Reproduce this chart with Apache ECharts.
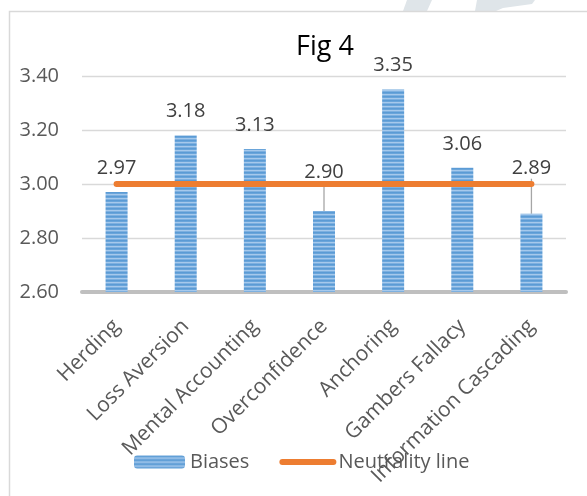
<!DOCTYPE html>
<html>
<head>
<meta charset="utf-8">
<script src="https://cdn.jsdelivr.net/npm/echarts@6/dist/echarts.min.js"></script>
<style>
  html, body { margin: 0; padding: 0; background: #ffffff; }
  #chart { width: 587px; height: 496px; }
</style>
</head>
<body>
<div id="chart"></div>
<script>
// Survey means per behavioural bias, plus the neutral reference level
const categories = ['Herding', 'Loss Aversion', 'Mental Accounting', 'Overconfidence', 'Anchoring', 'Gambers Fallacy', 'Information Cascading'];
const biases = [2.97, 3.18, 3.13, 2.90, 3.35, 3.06, 2.89];
const neutrality = [3.00, 3.00, 3.00, 3.00, 3.00, 3.00, 3.00];
const yMin = 2.6;
const yMax = 3.4;
const yStep = 0.2;

const FONT = '"Open Sans", "Noto Sans", sans-serif';

// Labels that sit under the orange line get pushed up above it, with a leader line
const liftedLabels = { 'Overconfidence': 15, 'Information Cascading': 21 };

// Horizontal-stripe fill for the bars
function stripeFill() {
  const c = document.createElement('canvas');
  c.width = 4; c.height = 4;
  const g = c.getContext('2d');
  const rows = ['#5b9bd5', '#6aa5da', '#a6c9ec', '#7db0e0'];
  rows.forEach((col, i) => { g.fillStyle = col; g.fillRect(0, i, 4, 1); });
  return { image: c, repeat: 'repeat' };
}
const barFill = stripeFill();

const chart = echarts.init(document.getElementById('chart'), null, { renderer: 'canvas' });

chart.setOption({
  animation: false,
  backgroundColor: '#ffffff',
  title: {
    text: 'Fig 4',
    left: 296,
    top: 34,
    padding: 0,
    textStyle: { fontFamily: FONT, fontSize: 27, fontWeight: 'normal', color: '#000000' }
  },
  graphic: [
    // faint logo shapes in the top margin
    { type: 'polygon', z: -10, silent: true,
      shape: { points: [[403, 11], [407, 0], [432, 0], [427, 11]] },
      style: { fill: '#dfe5e9' } },
    { type: 'polygon', z: -10, silent: true,
      shape: { points: [[475, 11], [477, 0], [535, 0], [532, 4], [503, 8], [496, 11]] },
      style: { fill: '#dfe5e9' } },
    // chart-area frame
    { type: 'rect', z: -5, silent: true,
      shape: { x: 9.5, y: 11.5, width: 620, height: 520 },
      style: { fill: 'none', stroke: '#d9d9d9', lineWidth: 1.5 } }
  ],
  legend: {
    data: [
      'Biases',
      // plain thick line swatch, no marker
      {
        name: 'Neutrality line',
        itemStyle: { opacity: 0, borderWidth: 0 },
        lineStyle: { color: '#ed7d31', width: 6, cap: 'round' }
      }
    ],
    left: 134,
    top: 452,
    padding: 0,
    itemWidth: 51,
    itemHeight: 13,
    itemGap: 30,
    textStyle: { fontFamily: FONT, fontSize: 20, color: '#595959' }
  },
  grid: { left: 82, right: 21, top: 76, bottom: 204, containLabel: false },
  xAxis: {
    type: 'category',
    data: categories,
    axisTick: { show: false },
    axisLine: { lineStyle: { color: '#bfbfbf', width: 4 } },
    axisLabel: {
      interval: 0,
      rotate: 45,
      margin: 31,
      fontFamily: FONT,
      fontSize: 21,
      color: '#595959'
    }
  },
  yAxis: {
    type: 'value',
    min: yMin,
    max: yMax,
    interval: yStep,
    axisLine: { show: false },
    axisTick: { show: false },
    splitLine: { lineStyle: { color: '#d9d9d9', width: 1.3 } },
    axisLabel: {
      margin: 23,
      fontFamily: FONT,
      fontSize: 20,
      color: '#595959',
      formatter: v => v.toFixed(2)
    }
  },
  series: [
    {
      name: 'Biases',
      type: 'bar',
      barWidth: 22,
      data: biases.map((v, i) => ({
        value: v,
        labelLine: { show: categories[i] in liftedLabels }
      })),
      itemStyle: { color: barFill },
      label: {
        show: true,
        position: 'top',
        distance: 14,
        fontFamily: FONT,
        fontSize: 20,
        lineHeight: 20,
        color: '#404040',
        formatter: p => Number(p.value).toFixed(2)
      },
      labelLine: { show: false, lineStyle: { color: '#a6a6a6', width: 1.3 } },
      labelLayout: p => {
        const lift = liftedLabels[categories[p.dataIndex]];
        return lift ? { dy: -lift } : {};
      }
    },
    {
      name: 'Neutrality line',
      type: 'line',
      data: neutrality,
      symbol: 'none',
      z: 3,
      itemStyle: { color: '#ed7d31' },
      lineStyle: { color: '#ed7d31', width: 6, cap: 'round' }
    }
  ]
});
</script>
</body>
</html>
